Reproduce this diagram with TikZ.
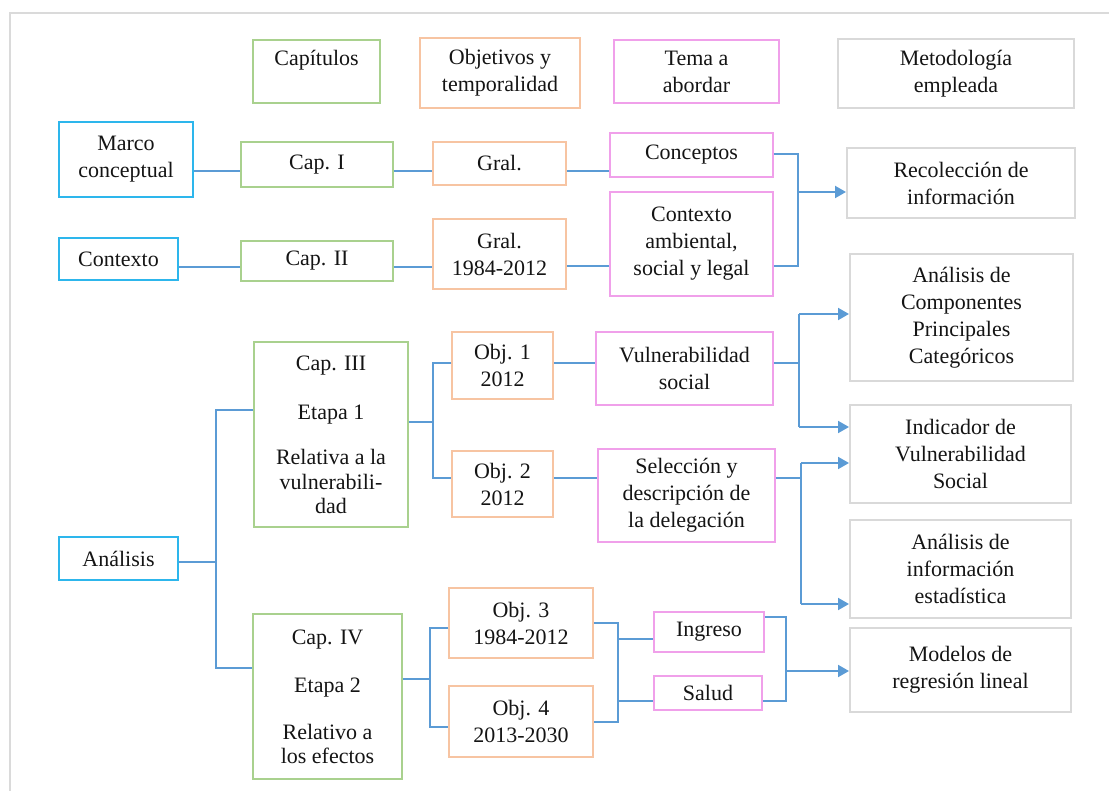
\documentclass[tikz,border=0pt]{standalone}
\usepackage{fontspec}
\setmainfont{Liberation Serif}
\newfontfamily\boxfont{Liberation Serif}
\usetikzlibrary{arrows.meta}
\definecolor{lnblue}{RGB}{91,155,213}
\definecolor{cyanb}{RGB}{45,182,236}
\definecolor{greenb}{RGB}{169,209,142}
\definecolor{orangeb}{RGB}{247,196,162}
\definecolor{pinkb}{RGB}{240,160,234}
\definecolor{grayb}{RGB}{217,217,217}
\definecolor{framegray}{RGB}{218,218,218}
\definecolor{inkc}{RGB}{20,20,20}
% box: style, name, centre x, centre y, width, height, text
\newcommand\bx[7]{\node[#1, minimum width=#5pt, minimum height=#6pt] (#2) at (#3,#4) {#7};}
\begin{document}
\begin{tikzpicture}[x=1pt,y=-1pt,
  box/.style={draw, line width=1.5pt, inner sep=0pt, align=center,
    font=\boxfont\fontsize{22}{27}\selectfont, text=inkc},
  bluebox/.style={box, draw=cyanb, line width=2pt},
  greenbox/.style={box, draw=greenb},
  orangebox/.style={box, draw=orangeb},
  pinkbox/.style={box, draw=pinkb},
  graybox/.style={box, draw=grayb, line width=2pt},
  wire/.style={draw=lnblue, line width=1.4pt},
  arr/.style={draw=lnblue, line width=2pt, -{Triangle[length=11pt,width=12pt]}},
]
\useasboundingbox (0,0) rectangle (1109,791);
% page frame
\draw[framegray, line width=2.5pt] (10,791) -- (10,13) -- (1109,13);

% column headers
\bx{greenbox}{hcap}{316.5}{71.5}{127}{63}{Capítulos\\\mbox{}}
\bx{orangebox}{hobj}{500}{73}{160}{70}{Objetivos y\\temporalidad}
\bx{pinkbox}{htema}{696.5}{71.5}{165}{63}{Tema a\\abordar}
\bx{graybox}{hmet}{956}{73.5}{236}{69}{Metodología\\empleada}

% first block
\bx{bluebox}{marco}{126}{159.5}{134}{75}{Marco\\conceptual}
\bx{greenbox}{cap1}{317}{164.5}{152}{45}{Cap. I}
\bx{orangebox}{gral1}{499.5}{163.5}{133}{43}{Gral.}
\bx{pinkbox}{conc}{691.5}{155}{163}{44}{Conceptos}
\bx{graybox}{recol}{961}{183}{228}{70}{Recolección de\\información}

\bx{bluebox}{contexto}{118.5}{259}{119}{42}{Contexto}
\bx{greenbox}{cap2}{317}{261}{152}{40}{Cap. II}
\bx{orangebox}{gral2}{499.5}{254}{133}{70}{Gral.\\1984-2012}
\bx{pinkbox}{ctxamb}{691.5}{244}{163}{104}{Contexto\\ambiental,\\social y legal}

% analysis block
\bx{graybox}{acp}{961.5}{317.5}{223}{127}{Análisis de\\Componentes\\Principales\\Categóricos}
\bx{greenbox}{cap3}{331}{434.5}{154}{185}{Cap. III\\[22pt]Etapa 1\\[18pt]Relativa a la\\[-2pt]vulnerabili-\\[-3pt]dad}
\bx{orangebox}{obj1}{502.5}{365.5}{101}{67}{Obj. 1\\2012}
\bx{pinkbox}{vuln}{684.5}{368.5}{177}{73}{Vulnerabilidad\\social}
\bx{orangebox}{obj2}{502.5}{484}{101}{66}{Obj. 2\\2012}
\bx{pinkbox}{sel}{686.5}{495.5}{177}{93}{Selección y\\descripción de\\la delegación}
\bx{graybox}{indic}{960.5}{454}{221}{98}{Indicador de\\Vulnerabilidad\\Social}
\bx{graybox}{ainfo}{960.5}{569}{221}{98}{Análisis de\\información\\estadística}
\bx{bluebox}{analisis}{118.5}{558.5}{119}{43}{Análisis}
\bx{greenbox}{cap4}{327.5}{696.5}{149}{165}{Cap. IV\\[21pt]Etapa 2\\[20pt]Relativo a\\[-3pt]los efectos}
\bx{orangebox}{obj3}{521}{623}{144}{70}{Obj. 3\\1984-2012}
\bx{orangebox}{obj4}{521}{721.5}{144}{71}{Obj. 4\\2013-2030}
\bx{pinkbox}{ingreso}{709}{632}{110}{40}{Ingreso}
\bx{pinkbox}{salud}{708}{693}{108}{34}{Salud}
\bx{graybox}{modelos}{960.5}{670}{221}{84}{Modelos de\\regresión lineal}

% connector levels and trunk positions
\coordinate (r1) at (0,171);
\coordinate (r2) at (0,267);
\coordinate (jA) at (798,0);
\coordinate (tA) at (216,0);
\coordinate (tB) at (433,0);
\coordinate (tC) at (799,0);
\coordinate (tD) at (801,0);
\coordinate (tE) at (430,0);
\coordinate (tF) at (618,0);
\coordinate (tG) at (786,0);

% first block wiring
\draw[wire] (marco.east |- r1) -- (cap1.west |- r1);
\draw[wire] (cap1.east |- r1) -- (gral1.west |- r1);
\draw[wire] (gral1.east |- r1) -- (conc.west |- r1);
\draw[wire] (contexto.east |- r2) -- (cap2.west |- r2);
\draw[wire] (cap2.east |- r2) -- (gral2.west |- r2);
\draw[wire] (gral2.east |- 0,266) -- (ctxamb.west |- 0,266);
\draw[wire] (conc.east |- 0,154) -| (jA |- 0,266) -- (ctxamb.east |- 0,266);
\draw[arr] (jA |- 0,192) -- (recol.west |- 0,192);

% analysis wiring
\draw[wire] (analisis.east |- 0,562) -- (tA |- 0,562);
\draw[wire] (cap3.west |- 0,410) -| (tA |- 0,668) -- (cap4.west |- 0,668);
\draw[wire] (cap3.east |- 0,422) -- (tB |- 0,422);
\draw[wire] (obj1.west |- 0,363) -| (tB |- 0,478) -- (obj2.west |- 0,478);
\draw[wire] (obj1.east |- 0,363) -- (vuln.west |- 0,363);
\draw[wire] (obj2.east |- 0,478) -- (sel.west |- 0,478);
\draw[wire] (vuln.east |- 0,363) -- (tC |- 0,363);
\draw[wire] (tC |- 0,314) -- (tC |- 0,427);
\draw[arr] (tC |- 0,314) -- (acp.west |- 0,314);
\draw[arr] (tC |- 0,427) -- (indic.west |- 0,427);
\draw[wire] (sel.east |- 0,478) -- (tD |- 0,478);
\draw[wire] (tD |- 0,463) -- (tD |- 0,604);
\draw[arr] (tD |- 0,463) -- (indic.west |- 0,463);
\draw[arr] (tD |- 0,604) -- (ainfo.west |- 0,604);

\draw[wire] (cap4.east |- 0,679) -- (tE |- 0,679);
\draw[wire] (obj3.west |- 0,628) -| (tE |- 0,727) -- (obj4.west |- 0,727);
\draw[wire] (obj3.east |- 0,623) -| (tF |- 0,722) -- (obj4.east |- 0,722);
\draw[wire] (tF |- 0,639) -- (ingreso.west |- 0,639);
\draw[wire] (tF |- 0,701) -- (salud.west |- 0,701);
\draw[wire] (ingreso.east |- 0,617) -| (tG |- 0,701) -- (salud.east |- 0,701);
\draw[arr] (tG |- 0,671) -- (modelos.west |- 0,671);
\end{tikzpicture}
\end{document}
